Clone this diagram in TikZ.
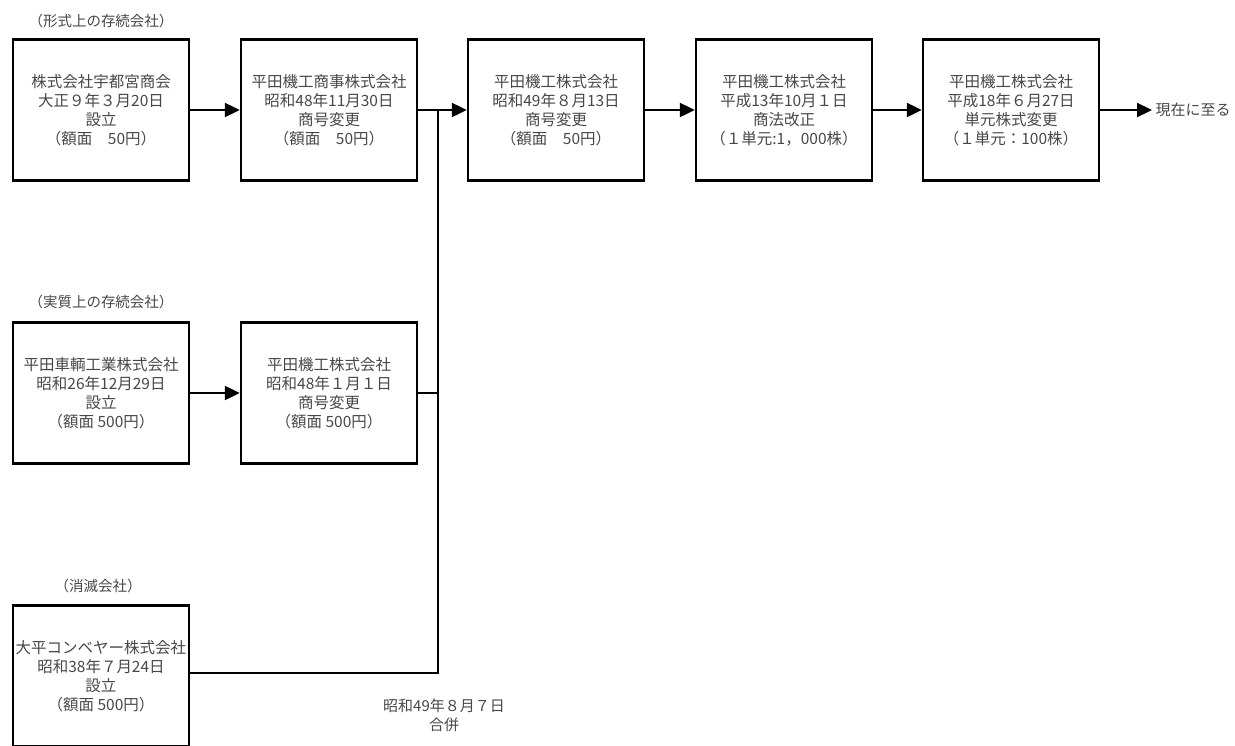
\documentclass[tikz,border=0pt]{standalone}
\usepackage{fontspec}
\setmainfont{Noto Sans CJK JP}
\usepackage{xcolor}
\usetikzlibrary{arrows.meta}

\tikzset{
  firm/.style={draw, line width=2.4pt, minimum width=176pt, minimum height=141pt,
    inner sep=0pt, align=center, text=black!72, font=\fontsize{15.5}{19}\selectfont},
  tag/.style={text=black!72, font=\fontsize{14.5}{16}\selectfont},
  note/.style={text=black!72, align=center, font=\fontsize{15}{19}\selectfont},
  link/.style={line width=2.2pt},
  arr/.style={link, -{Triangle[length=15pt,width=14pt]}}
}

\begin{document}
\begin{tikzpicture}[x=1pt, y=-1pt]
            \clip (0,0) rectangle (1235,745);
            \useasboundingbox (0,0) rectangle (1235,745);

            % row 1
            \node[tag] (t1) at (101, 21) {（形式上の存続会社）};
            \node[firm] (f1) at (101, 110) {株式会社宇都宮商会\\大正９年３月20日\\設立\\（額面　50円）};
            \node[firm] (f2) at (329, 110) {平田機工商事株式会社\\昭和48年11月30日\\商号変更\\（額面　50円）};
            \node[firm] (f3) at (556, 110) {平田機工株式会社\\昭和49年８月13日\\商号変更\\（額面　50円）};
            \node[firm] (f4) at (784, 110) {平田機工株式会社\\平成13年10月１日\\商法改正\\（１単元:1，000株）};
            \node[firm] (f5) at (1011, 110) {平田機工株式会社\\平成18年６月27日\\単元株式変更\\（１単元：100株）};
            \node[note, anchor=west] (now) at (1152, 110) {現在に至る};

            % row 2
            \node[tag] (t2) at (101, 302) {（実質上の存続会社）};
            \node[firm] (s1) at (101, 393) {平田車輌工業株式会社\\昭和26年12月29日\\設立\\（額面 500円）};
            \node[firm] (s2) at (329, 393) {平田機工株式会社\\昭和48年１月１日\\商号変更\\（額面 500円）};

            % row 3
            \node[tag] (t3) at (98, 586) {（消滅会社）};
            \node[firm] (e1) at (101, 676) {大平コンベヤー株式会社\\昭和38年７月24日\\設立\\（額面 500円）};

            \coordinate (merge) at (438, 110);
            \node[note] (date) at (444, 715) {昭和49年８月７日\\合併};

            \draw[arr] (f1) -- (f2);
            \draw[arr] (f2) -- (f3);
            \draw[arr] (f3) -- (f4);
            \draw[arr] (f4) -- (f5);
            \draw[arr] (f5) -- (now);
            \draw[arr] (s1) -- (s2);
            \draw[link] (s2.east) -- (s2.east -| merge);
            \draw[link] (e1.east |- 0,673) -| (merge);
        \end{tikzpicture}
\end{document}
